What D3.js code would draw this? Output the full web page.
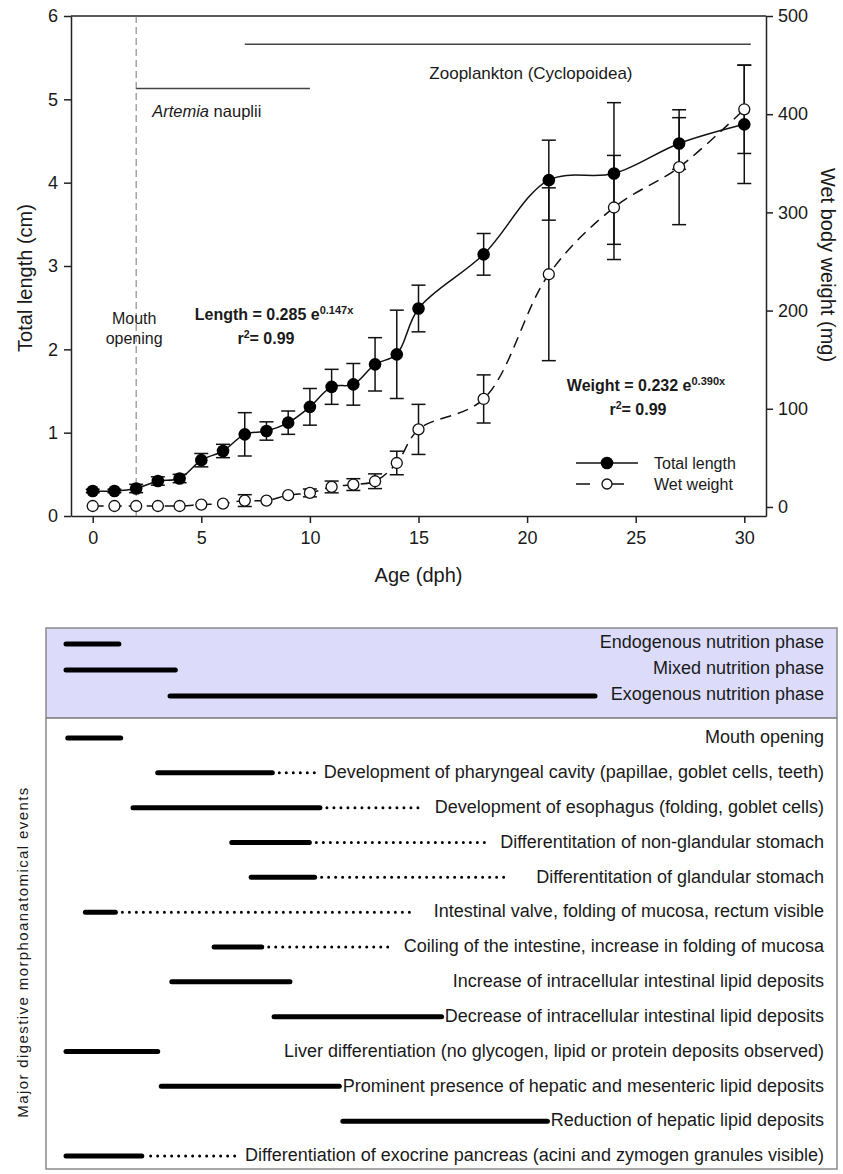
<!DOCTYPE html>
<html>
<head>
<meta charset="utf-8">
<script src="https://cdn.jsdelivr.net/npm/d3@7"></script>
<style>
  body { margin: 0; background: #fff; }
  svg text { font-family: "Liberation Sans", Arial, Helvetica, sans-serif; fill: #1a1a1a; }
</style>
</head>
<body>
<div id="chart"></div>
<script>
// growth data
const ages = [0, 1, 2, 3, 4, 5, 6, 7, 8, 9, 10, 11, 12, 13, 14, 15, 18, 21, 24, 27, 30];
const lengthMean = [0.30, 0.30, 0.33, 0.42, 0.45, 0.67, 0.78, 0.98, 1.02, 1.12, 1.31, 1.55, 1.58, 1.82, 1.94, 2.49, 3.14, 4.03, 4.11, 4.47, 4.70];
const lengthErr = [0.02, 0.02, 0.05, 0.05, 0.05, 0.08, 0.08, 0.26, 0.11, 0.14, 0.22, 0.21, 0.25, 0.32, 0.53, 0.28, 0.25, 0.48, 0.85, 0.31, 0.71];
const weightMean = [1, 1, 1, 1, 1, 2.4, 3.4, 6.5, 6.5, 12, 14.3, 20.4, 22.8, 26.2, 44.8, 79, 110, 237, 305, 346, 405];
const weightErr = [0, 0, 0, 0, 0, 0, 0, 6, 0, 0, 4, 6, 6, 7.5, 12, 25.5, 24.5, 88, 53, 58.5, 45];

const lengthTicks = [0, 1, 2, 3, 4, 5, 6];
const weightTicks = [0, 100, 200, 300, 400, 500];
const ageTicks = [0, 5, 10, 15, 20, 25, 30];

// feeding periods
const feedNames = ["Artemia nauplii", "Zooplankton (Cyclopoidea)"];
const feedStart = [2, 7];
const feedEnd = [10, 30.3];
const feedLevel = [5.13, 5.66];
const mouthOpeningAge = 2;

// nutrition phases (bottom panel, dph)
const phaseNames = ["Endogenous nutrition phase", "Mixed nutrition phase", "Exogenous nutrition phase"];
const phaseStart = [0, 0, 5.9];
const phaseEnd = [3.0, 6.2, 30];

// digestive events (bottom panel, dph)
const eventNames = [
  "Mouth opening",
  "Development of pharyngeal cavity (papillae, goblet cells, teeth)",
  "Development of esophagus (folding, goblet cells)",
  "Differentitation of non-glandular stomach",
  "Differentitation of glandular stomach",
  "Intestinal valve, folding of mucosa, rectum visible",
  "Coiling of the intestine, increase in folding of mucosa",
  "Increase of intracellular intestinal lipid deposits",
  "Decrease of intracellular intestinal lipid deposits",
  "Liver differentiation (no glycogen, lipid or protein deposits observed)",
  "Prominent presence of hepatic and mesenteric lipid deposits",
  "Reduction of hepatic lipid deposits",
  "Differentiation of exocrine pancreas (acini and zymogen granules visible)"
];
const eventStart    = [0.1, 5.2, 3.8, 9.4, 10.5, 1.1, 8.4, 6.0, 11.8, 0.0, 5.4, 15.7, 0.0];
const eventSolidEnd = [3.1, 11.7, 14.4, 13.8, 14.1, 2.8, 11.1, 12.7, 21.3, 5.2, 15.5, 27.3, 4.3];
const eventDotStart = [null, 11.7, 14.4, 13.8, 14.1, 2.8, 11.1, null, null, null, null, null, 4.8];
const eventDotEnd   = [null, 14.2, 20.1, 23.9, 25.1, 19.7, 18.5, null, null, null, null, null, 9.9];

const W = 843, H = 1174;
const svg = d3.select("#chart").append("svg")
  .attr("width", W)
  .attr("height", H);

// ---------- top chart ----------
const x = d3.scaleLinear().domain([-1, 31]).range([71, 766]);
const yLen = d3.scaleLinear().domain([0, 6]).range([516, 16]);
const yWt = d3.scaleLinear().domain([-9.2, 500]).range([516, 16]);

function styleAxis(g, fs) {
  g.select(".domain").attr("stroke", "#222").attr("stroke-width", 1.5);
  g.selectAll(".tick line").attr("stroke", "#222").attr("stroke-width", 1.5);
  g.selectAll(".tick text").style("font-size", fs).attr("fill", "#1a1a1a");
}

svg.append("g")
  .attr("transform", `translate(${x(-1)},0)`)
  .call(d3.axisLeft(yLen).tickValues(lengthTicks).tickFormat(d3.format("d")).tickSizeInner(7).tickSizeOuter(0).tickPadding(6))
  .call(g => styleAxis(g, "18px"));

svg.append("g")
  .attr("transform", `translate(0,${yLen(0)})`)
  .call(d3.axisBottom(x).tickValues(ageTicks).tickFormat(d3.format("d")).tickSizeInner(7).tickSizeOuter(0).tickPadding(8))
  .call(g => styleAxis(g, "18px"));

svg.append("g")
  .attr("transform", `translate(${x(31)},0)`)
  .call(d3.axisRight(yWt).tickValues(weightTicks).tickFormat(d3.format("d")).tickSizeInner(7).tickSizeOuter(0).tickPadding(5))
  .call(g => styleAxis(g, "18px"));

// top frame line
svg.append("line")
  .attr("x1", x(-1)).attr("x2", x(31))
  .attr("y1", yLen(6)).attr("y2", yLen(6))
  .attr("stroke", "#222").attr("stroke-width", 1.5);

// axis titles
svg.append("text")
  .attr("transform", `translate(32,${(yLen(0) + yLen(6)) / 2 + 12}) rotate(-90)`)
  .attr("text-anchor", "middle")
  .style("font-size", "20px")
  .text("Total length (cm)");

svg.append("text")
  .attr("transform", `translate(821,265) rotate(90)`)
  .attr("text-anchor", "middle")
  .style("font-size", "20px")
  .text("Wet body weight (mg)");

svg.append("text")
  .attr("x", (x(-1) + x(31)) / 2)
  .attr("y", 582)
  .attr("text-anchor", "middle")
  .style("font-size", "20px")
  .text("Age (dph)");

// mouth opening marker
svg.append("line")
  .attr("x1", x(mouthOpeningAge)).attr("x2", x(mouthOpeningAge))
  .attr("y1", yLen(6)).attr("y2", yLen(0))
  .attr("stroke", "#777").attr("stroke-width", 1)
  .attr("stroke-dasharray", "7,4");

svg.append("text")
  .attr("x", x(mouthOpeningAge) - 2)
  .attr("y", 324)
  .attr("text-anchor", "middle")
  .style("font-size", "16px")
  .attr("fill", "#333")
  .selectAll("tspan")
  .data(["Mouth", "opening"])
  .join("tspan")
  .attr("x", x(mouthOpeningAge) - 2)
  .attr("dy", (d, i) => i === 0 ? 0 : 20)
  .text(d => d);

// feeding lines
feedNames.forEach((name, i) => {
  svg.append("line")
    .attr("x1", x(feedStart[i])).attr("x2", x(feedEnd[i]))
    .attr("y1", yLen(feedLevel[i])).attr("y2", yLen(feedLevel[i]))
    .attr("stroke", "#444").attr("stroke-width", 1.5);
});

const artemia = svg.append("text")
  .attr("x", x(feedStart[0]) + 16)
  .attr("y", yLen(feedLevel[0]) + 28)
  .style("font-size", "16.5px");
artemia.append("tspan").style("font-style", "italic").text("Artemia");
artemia.append("tspan").text(" nauplii");

svg.alsoZoo = svg.append("text")
  .attr("x", x(15.5))
  .attr("y", 79)
  .style("font-size", "17px")
  .text(feedNames[1]);

// series
const lenPts = ages.map((a, i) => ({ a, v: lengthMean[i], e: lengthErr[i] }));
const wtPts = ages.map((a, i) => ({ a, v: weightMean[i], e: weightErr[i] }));

svg.append("path")
  .datum(lenPts)
  .attr("fill", "none")
  .attr("stroke", "#111")
  .attr("stroke-width", 1.5)
  .attr("d", d3.line().x(d => x(d.a)).y(d => yLen(d.v)).curve(d3.curveCatmullRom));

svg.append("path")
  .datum(wtPts)
  .attr("fill", "none")
  .attr("stroke", "#111")
  .attr("stroke-width", 1.5)
  .attr("stroke-dasharray", "11,7")
  .attr("d", d3.line().x(d => x(d.a)).y(d => yWt(d.v)).curve(d3.curveCatmullRom));

// error bars
function errBars(pts, y) {
  const g = svg.append("g").attr("stroke", "#111").attr("stroke-width", 1.5);
  pts.filter(d => d.e > 0).forEach(d => {
    const cx = x(d.a);
    g.append("line").attr("x1", cx).attr("x2", cx).attr("y1", y(d.v - d.e)).attr("y2", y(d.v + d.e));
    [d.v - d.e, d.v + d.e].forEach(v => {
      g.append("line").attr("x1", cx - 7).attr("x2", cx + 7).attr("y1", y(v)).attr("y2", y(v));
    });
  });
}
errBars(lenPts, yLen);
errBars(wtPts, yWt);

svg.append("g").selectAll("circle")
  .data(wtPts)
  .join("circle")
  .attr("cx", d => x(d.a))
  .attr("cy", d => yWt(d.v))
  .attr("r", 5.5)
  .attr("fill", "#fff")
  .attr("stroke", "#111")
  .attr("stroke-width", 1.3);

svg.append("g").selectAll("circle")
  .data(lenPts)
  .join("circle")
  .attr("cx", d => x(d.a))
  .attr("cy", d => yLen(d.v))
  .attr("r", 6.3)
  .attr("fill", "#000");

// equations
function equation(cx, cy, label, a, b) {
  const t = svg.append("text")
    .attr("x", cx).attr("y", cy)
    .attr("text-anchor", "middle")
    .style("font-size", "16px")
    .style("font-weight", "bold");
  t.append("tspan").text(`${label} = ${a} e`);
  t.append("tspan").attr("dy", -6).style("font-size", "11px").text(`${b}x`);
  const r = svg.append("text")
    .attr("x", cx - 8).attr("y", cy + 24)
    .attr("text-anchor", "middle")
    .style("font-size", "16px")
    .style("font-weight", "bold");
  r.append("tspan").text("r");
  r.append("tspan").attr("dy", -6).style("font-size", "10.5px").text("2");
  r.append("tspan").attr("dy", 6).text("= 0.99");
}
equation(274, 320, "Length", "0.285", "0.147");
equation(646, 391, "Weight", "0.232", "0.390");

// legend
const legend = svg.append("g");
legend.append("line").attr("x1", 576).attr("x2", 638).attr("y1", 463).attr("y2", 463)
  .attr("stroke", "#111").attr("stroke-width", 1.5);
legend.append("circle").attr("cx", 607).attr("cy", 463).attr("r", 6.3).attr("fill", "#000");
legend.append("line").attr("x1", 576).attr("x2", 638).attr("y1", 484).attr("y2", 484)
  .attr("stroke", "#111").attr("stroke-width", 1.5).attr("stroke-dasharray", "14,20");
legend.append("circle").attr("cx", 607).attr("cy", 484).attr("r", 5).attr("fill", "#fff")
  .attr("stroke", "#111").attr("stroke-width", 1.3);
legend.append("text").attr("x", 654).attr("y", 469).style("font-size", "16px").text("Total length");
legend.append("text").attr("x", 654).attr("y", 490).style("font-size", "16px").text("Wet weight");

// ---------- bottom panel ----------
const bx = d3.scaleLinear().domain([0, 30]).range([66, 595]);
const boxL = 46, boxR = 837, boxT = 628, boxSep = 718, boxB = 1169;
const textRight = 824;

svg.append("rect")
  .attr("x", boxL).attr("y", boxT)
  .attr("width", boxR - boxL).attr("height", boxSep - boxT)
  .attr("fill", "#dcdcfa");

svg.append("rect")
  .attr("x", boxL).attr("y", boxT)
  .attr("width", boxR - boxL).attr("height", boxB - boxT)
  .attr("fill", "none").attr("stroke", "#8a8a8a").attr("stroke-width", 1.5);

svg.append("line")
  .attr("x1", boxL).attr("x2", boxR).attr("y1", boxSep).attr("y2", boxSep)
  .attr("stroke", "#777").attr("stroke-width", 1.5);

const phaseY = d3.scalePoint().domain(phaseNames).range([644, 696]);
const eventY = d3.scalePoint().domain(eventNames).range([738, 1156]);

const bars = svg.append("g")
  .attr("stroke", "#000")
  .attr("stroke-linecap", "round");

phaseNames.forEach((name, i) => {
  const y = phaseY(name);
  bars.append("line")
    .attr("x1", bx(phaseStart[i])).attr("x2", bx(phaseEnd[i]))
    .attr("y1", y).attr("y2", y)
    .attr("stroke-width", 5);
  svg.append("text")
    .attr("x", textRight).attr("y", y - 2)
    .attr("dy", "0.35em")
    .attr("text-anchor", "end")
    .style("font-size", "18px")
    .text(name);
});

eventNames.forEach((name, i) => {
  const y = eventY(name);
  if (eventDotEnd[i] != null) {
    bars.append("line")
      .attr("x1", bx(eventDotStart[i])).attr("x2", bx(eventDotEnd[i]))
      .attr("y1", y).attr("y2", y)
      .attr("stroke-width", 3)
      .attr("stroke-dasharray", "0,7");
  }
  bars.append("line")
    .attr("x1", bx(eventStart[i])).attr("x2", bx(eventSolidEnd[i]))
    .attr("y1", y).attr("y2", y)
    .attr("stroke-width", 5);
  svg.append("text")
    .attr("x", textRight).attr("y", y - 1)
    .attr("dy", "0.35em")
    .attr("text-anchor", "end")
    .style("font-size", "18px")
    .text(name);
});

svg.append("text")
  .attr("transform", `translate(28,952) rotate(-90)`)
  .attr("text-anchor", "middle")
  .style("font-size", "15px")
  .style("letter-spacing", "1.4px")
  .attr("fill", "#333")
  .text("Major digestive morphoanatomical events");
</script>
</body>
</html>
